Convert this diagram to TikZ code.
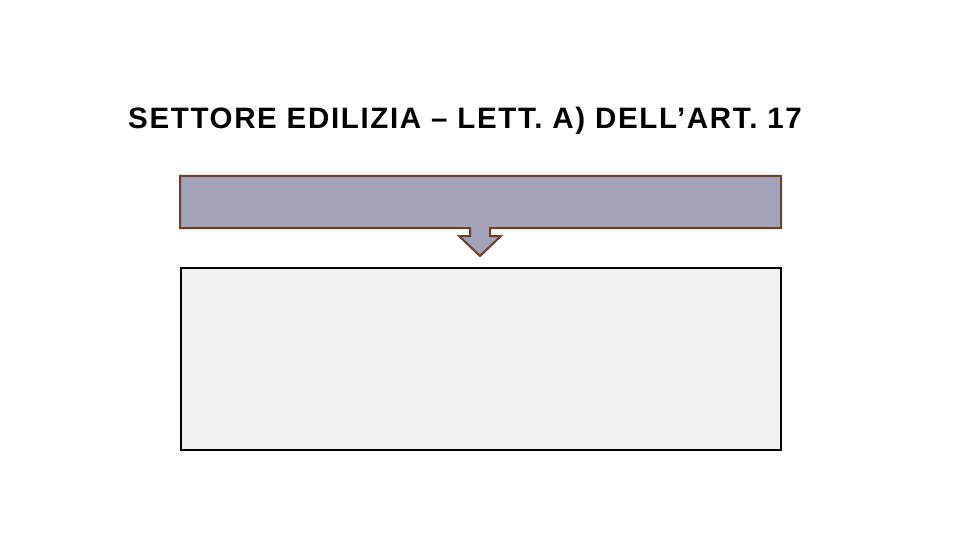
\documentclass[tikz,border=0pt]{standalone}
\usepackage{fontspec}
\setmainfont{Liberation Sans}
\newfontfamily\titlefont[LetterSpace=5.6]{Liberation Sans}
\usetikzlibrary{calc}
\definecolor{headfill}{HTML}{A2A2B9}
\definecolor{headline}{HTML}{6B4128}
\definecolor{bodyfill}{HTML}{F2F2F2}

\begin{document}
\begin{tikzpicture} [x=1pt, y=-1pt]
\useasboundingbox (0,0) rectangle (960,540);
\node[anchor=base west, inner sep=0, font=\titlefont\bfseries\fontsize{29.5}{36}\selectfont] (title) at (128,128.5)
  {SETTORE EDILIZIA – LETT. A) DELL’ART. 17};
% box with arrow
\coordinate (head) at (480,228);
\draw[headline, line width=2pt, fill=headfill, line join=miter]
  (180,176) -- (781,176) -- (781,228) -- ($(head)+(10,0)$) --++(0,8) --++(11,0)
  -- ($(head)+(0,28)$) coordinate (tip) -- ($(head)+(-21,8)$) --++(11,0)
  -- ($(head)+(-10,0)$) -- (180,228) -- cycle;
\node[draw=black, line width=2pt, fill=bodyfill, anchor=north west,
  minimum width=600pt, minimum height=182pt, inner sep=0] (body) at (180,267) {};
\end{tikzpicture}
\end{document}
